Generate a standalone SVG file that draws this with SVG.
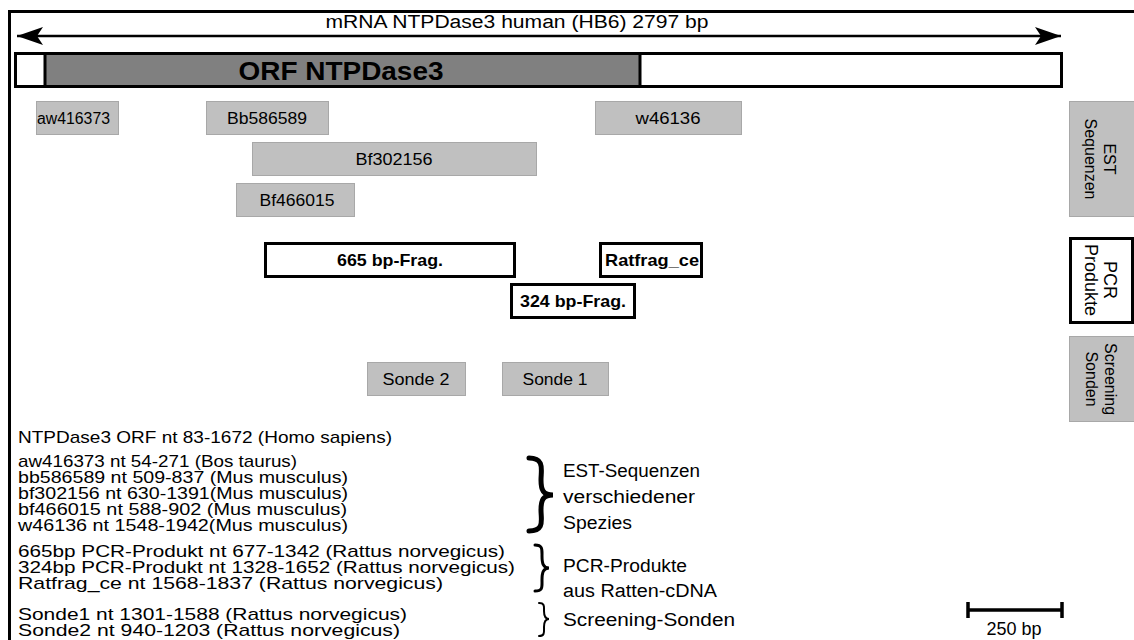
<svg xmlns="http://www.w3.org/2000/svg" width="1134" height="640" viewBox="0 0 1134 640">
<defs>
<style>
text{font-family:"Liberation Sans",Arial,sans-serif;fill:#000;stroke:none}
.t17{font-size:17px}
.est rect{fill:#c0c0c0;stroke:#a8a8a8;stroke-width:1}
.est text{font-size:16px}
.pcr{fill:#fff;stroke:#000;stroke-width:3}
.b{font-weight:bold}
.lst{font-size:17px}
.brace{fill:none;stroke:#000;stroke-linecap:round}
</style>
<marker id="ah" markerWidth="26" markerHeight="18" refX="26" refY="9" orient="auto-start-reverse" markerUnits="userSpaceOnUse">
<path d="M0,0 L26,9 L0,18 L6,9 Z" fill="#000"/>
</marker>
</defs>
<rect width="1134" height="640" fill="#fff"/>
<g id="frame" fill="none" stroke="#000" stroke-width="3">
<path d="M9.5,640 V11.5 H1134"/>
</g>
<g id="connectors">
<line x1="17" y1="36" x2="1061" y2="36" stroke="#000" stroke-width="2.5" marker-start="url(#ah)" marker-end="url(#ah)"/>
</g>
<g id="title"><text x="517" y="28" font-size="18" text-anchor="middle" textLength="383" lengthAdjust="spacingAndGlyphs">mRNA NTPDase3 human (HB6) 2797 bp</text></g>
<g id="orf">
<rect x="15.5" y="53.5" width="1046" height="33" fill="#fff" stroke="#000" stroke-width="3"/>
<rect x="45" y="53.5" width="595" height="33" fill="#808080" stroke="#000" stroke-width="3"/>
<text class="b" x="341" y="80" font-size="26" text-anchor="middle" textLength="205" lengthAdjust="spacingAndGlyphs">ORF NTPDase3</text>
</g>
<g id="aw416373" class="est"><rect x="36.5" y="101.5" width="82" height="33"/><text x="37" y="124" textLength="73" lengthAdjust="spacingAndGlyphs">aw416373</text></g>
<g id="bb586589" class="est"><rect x="206.5" y="101.5" width="122" height="33"/><text x="267" y="124" text-anchor="middle" textLength="80" lengthAdjust="spacingAndGlyphs">Bb586589</text></g>
<g id="bf302156" class="est"><rect x="252.5" y="142.5" width="284" height="33"/><text x="394" y="165" text-anchor="middle" textLength="77" lengthAdjust="spacingAndGlyphs">Bf302156</text></g>
<g id="bf466015" class="est"><rect x="236.5" y="183.5" width="118" height="33"/><text x="297" y="206" text-anchor="middle" textLength="75" lengthAdjust="spacingAndGlyphs">Bf466015</text></g>
<g id="w46136" class="est"><rect x="595.5" y="101.5" width="146" height="33"/><text x="668" y="124" text-anchor="middle" textLength="65" lengthAdjust="spacingAndGlyphs">w46136</text></g>
<g id="est-label" class="est"><rect x="1069.5" y="101.5" width="66" height="115"/>
<g transform="translate(1100,159) rotate(90)"><text x="0" y="-4" font-size="18" text-anchor="middle">EST</text><text x="0" y="15" font-size="18" text-anchor="middle">Sequenzen</text></g></g>
<g id="frag665"><rect class="pcr" x="265.5" y="243.5" width="249" height="33"/><text class="b" x="390" y="266" font-size="17" text-anchor="middle" textLength="106" lengthAdjust="spacingAndGlyphs">665 bp-Frag.</text></g>
<g id="ratfrag"><rect class="pcr" x="600.5" y="243.5" width="101" height="33"/><text class="b" x="605" y="266" font-size="17" textLength="94" lengthAdjust="spacingAndGlyphs">Ratfrag_ce</text></g>
<g id="frag324"><rect class="pcr" x="511.5" y="284.5" width="123" height="33"/><text class="b" x="573" y="307" font-size="17" text-anchor="middle" textLength="106" lengthAdjust="spacingAndGlyphs">324 bp-Frag.</text></g>
<g id="pcr-label"><rect class="pcr" x="1070.5" y="238.5" width="62" height="84"/>
<g transform="translate(1100,280) rotate(90)"><text x="0" y="-4" font-size="18" text-anchor="middle">PCR</text><text x="0" y="15" font-size="18" text-anchor="middle">Produkte</text></g></g>
<g id="sonde2" class="est"><rect x="367.5" y="362.5" width="98" height="33"/><text x="416" y="385" font-size="17" text-anchor="middle" textLength="67" lengthAdjust="spacingAndGlyphs">Sonde 2</text></g>
<g id="sonde1" class="est"><rect x="502.5" y="362.5" width="106" height="33"/><text x="555" y="385" font-size="17" text-anchor="middle" textLength="65" lengthAdjust="spacingAndGlyphs">Sonde 1</text></g>
<g id="screen-label" class="est"><rect x="1069.5" y="336.5" width="66" height="85"/>
<g transform="translate(1100,379) rotate(90)"><text x="0" y="-5" font-size="18" text-anchor="middle">Screening</text><text x="0" y="14" font-size="18" text-anchor="middle">Sonden</text></g></g>
<g id="legend" class="lst">
<text x="18" y="443" textLength="374" lengthAdjust="spacingAndGlyphs">NTPDase3 ORF nt 83-1672 (Homo sapiens)</text>
<text x="18" y="467" textLength="279" lengthAdjust="spacingAndGlyphs">aw416373 nt 54-271 (Bos taurus)</text>
<text x="18" y="483" textLength="330" lengthAdjust="spacingAndGlyphs">bb586589 nt 509-837 (Mus musculus)</text>
<text x="18" y="499" textLength="330" lengthAdjust="spacingAndGlyphs">bf302156 nt 630-1391(Mus musculus)</text>
<text x="18" y="515" textLength="329" lengthAdjust="spacingAndGlyphs">bf466015 nt 588-902 (Mus musculus)</text>
<text x="18" y="531" textLength="330" lengthAdjust="spacingAndGlyphs">w46136 nt 1548-1942(Mus musculus)</text>
<text x="18" y="557" textLength="487" lengthAdjust="spacingAndGlyphs">665bp PCR-Produkt nt 677-1342 (Rattus norvegicus)</text>
<text x="18" y="573" textLength="497" lengthAdjust="spacingAndGlyphs">324bp PCR-Produkt nt 1328-1652 (Rattus norvegicus)</text>
<text x="18" y="589" textLength="425" lengthAdjust="spacingAndGlyphs">Ratfrag_ce nt 1568-1837 (Rattus norvegicus)</text>
<text x="18" y="620" textLength="389" lengthAdjust="spacingAndGlyphs">Sonde1 nt 1301-1588 (Rattus norvegicus)</text>
<text x="18" y="636" textLength="382" lengthAdjust="spacingAndGlyphs">Sonde2 nt 940-1203 (Rattus norvegicus)</text>
</g>
<g id="brace-est">
<path class="brace" stroke-width="5" d="M529,458 C545,458 541,470 541,480 C541,490 543,495 553,495 C543,495 541,500 541,510 C541,520 545,531 529,531"/>
<text x="563" y="477" font-size="18" textLength="137" lengthAdjust="spacingAndGlyphs">EST-Sequenzen</text>
<text x="563" y="503" font-size="18" textLength="132" lengthAdjust="spacingAndGlyphs">verschiedener</text>
<text x="563" y="529" font-size="18" textLength="69" lengthAdjust="spacingAndGlyphs">Spezies</text>
</g>
<g id="brace-pcr">
<path class="brace" stroke-width="3" d="M535,545 C543,545 542,550 542,556 C542,563 543,568 549,568 C543,568 542,573 542,580 C542,587 543,591 535,591"/>
<text x="563" y="572" font-size="18" textLength="124" lengthAdjust="spacingAndGlyphs">PCR-Produkte</text>
<text x="563" y="597" font-size="18" textLength="154" lengthAdjust="spacingAndGlyphs">aus Ratten-cDNA</text>
</g>
<g id="brace-sonde">
<path class="brace" stroke-width="2" d="M539,603 C545,603 544,607 544,611 C544,616 545,619 549,619 C545,619 544,622 544,627 C544,632 545,636 539,636"/>
<text x="563" y="626" font-size="18" textLength="172" lengthAdjust="spacingAndGlyphs">Screening-Sonden</text>
</g>
<g id="scalebar">
<path d="M968,610 H1062 M968,602 V618 M1062,602 V618" stroke="#000" stroke-width="3.5" fill="none"/>
<text x="1014" y="635" font-size="18" text-anchor="middle">250 bp</text>
</g>
</svg>
